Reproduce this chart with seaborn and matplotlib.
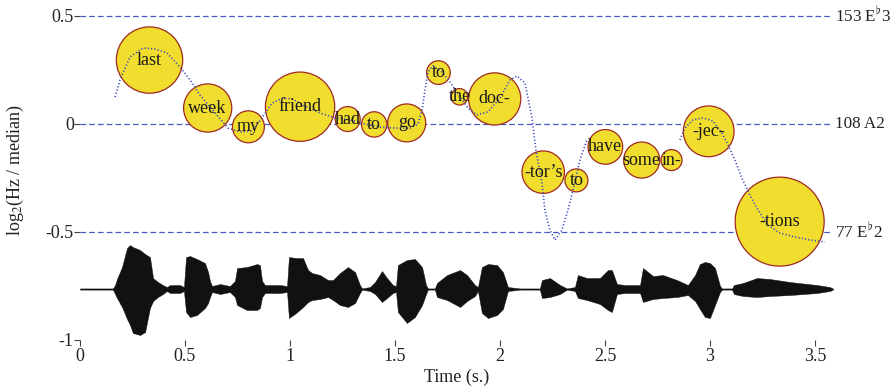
import numpy as np
import pandas as pd
import matplotlib
matplotlib.use("Agg")
import matplotlib.pyplot as plt
import seaborn as sns

# ---------------- data ----------------
# syllables: label, time (s), pitch (log2 Hz/median), relative weight (circle area)
syllables = ["last", "week", "my", "friend", "had", "to", "go", "to", "the", "doc-",
             "-tor\u2019s", "to", "have", "some", "in-", "-jec-", "-tions"]
syl_time = [0.331, 0.608, 0.802, 1.048, 1.275, 1.401, 1.556, 1.707, 1.807, 1.975,
            2.206, 2.364, 2.502, 2.675, 2.817, 2.994, 3.332]
syl_pitch = [0.296, 0.074, -0.013, 0.080, 0.023, -0.002, 0.005, 0.238, 0.126, 0.116,
             -0.223, -0.261, -0.106, -0.167, -0.167, -0.034, -0.452]
syl_weight = [1100, 580, 255, 1200, 155, 160, 360, 140, 68, 680,
              450, 132, 300, 325, 110, 645, 1980]

# pitch contour (two voiced stretches)
contour_seg = [0] * 51 + [1] * 16
contour_time = [0.167, 0.190, 0.238, 0.300, 0.357, 0.414, 0.476, 0.524, 0.571, 0.643,
                0.705, 0.762, 0.819, 0.867, 0.914, 0.967, 1.010, 1.071, 1.143, 1.214,
                1.286, 1.357, 1.429, 1.500, 1.571, 1.610, 1.629, 1.643, 1.657, 1.681,
                1.724, 1.762, 1.810, 1.848, 1.890, 1.943, 2.000, 2.048, 2.081, 2.119,
                2.152, 2.171, 2.200, 2.214, 2.238, 2.262, 2.295, 2.324, 2.348, 2.381,
                2.414,
                2.857, 2.881, 2.919, 2.967, 3.014, 3.057, 3.086, 3.119, 3.152, 3.190,
                3.229, 3.276, 3.333, 3.405, 3.476, 3.548]
contour_pitch = [0.125, 0.204, 0.310, 0.352, 0.347, 0.329, 0.264, 0.204, 0.134, 0.051,
                 -0.019, -0.037, -0.032, 0.028, 0.097, 0.120, 0.116, 0.083, 0.051, 0.028,
                 0.019, 0.000, -0.014, -0.019, -0.019, 0.000, 0.065, 0.157, 0.241, 0.269,
                 0.241, 0.194, 0.125, 0.074, 0.042, 0.056, 0.120, 0.204, 0.222, 0.190,
                 0.032, -0.120, -0.273, -0.398, -0.491, -0.537, -0.491, -0.398, -0.306, -0.167,
                 -0.074,
                 -0.074, -0.019, 0.019, 0.028, 0.014, -0.042, -0.097, -0.167, -0.250, -0.329,
                 -0.398, -0.468, -0.505, -0.523, -0.537, -0.546]

# waveform envelope (arbitrary amplitude units)
wave_time = [0.000, 0.157, 0.167, 0.176, 0.200, 0.224, 0.238, 0.252, 0.286, 0.310,
             0.333, 0.348, 0.371, 0.395, 0.414, 0.429, 0.476, 0.495, 0.505, 0.524,
             0.557, 0.595, 0.610, 0.619, 0.629, 0.667, 0.714, 0.738, 0.748, 0.795,
             0.843, 0.857, 0.867, 0.881, 0.952, 0.986, 0.995, 1.029, 1.062, 1.086,
             1.105, 1.143, 1.181, 1.205, 1.238, 1.276, 1.310, 1.333, 1.343, 1.381,
             1.405, 1.438, 1.462, 1.490, 1.505, 1.514, 1.557, 1.595, 1.629, 1.648,
             1.657, 1.690, 1.700, 1.748, 1.810, 1.843, 1.881, 1.895, 1.914, 1.943,
             1.986, 2.014, 2.038, 2.095, 2.190, 2.200, 2.238, 2.286, 2.319, 2.357,
             2.371, 2.414, 2.476, 2.514, 2.533, 2.557, 2.595, 2.667, 2.681, 2.729,
             2.776, 2.843, 2.895, 2.929, 2.952, 2.976, 3.000, 3.024, 3.048, 3.057,
             3.105, 3.114, 3.157, 3.224, 3.286, 3.381, 3.510, 3.571, 3.586]
wave_hi = [0.6, 0.6, 4, 10, 22, 41, 44, 42, 39, 35,
           32, 11, 7, 4, 2, 4, 4, 2, 32, 33,
           30, 26, 17, 8, 3, 5, 3, 8, 21, 22,
           25, 24, 8, 4, 4, 3, 32, 31, 31, 19,
           16, 14, 9, 9, 16, 22, 17, 4, 0.6, 2,
           7, 18, 11, 4, 3, 24, 29, 30, 22, 4,
           0.6, 0.6, 6, 14, 19, 14, 4, 2, 22, 25,
           24, 17, 2, 0.6, 0.6, 9, 11, 4, 0.6, 2,
           14, 11, 11, 19, 19, 5, 4, 4, 21, 13,
           14, 9, 4, 14, 25, 27, 26, 21, 3, 0.6,
           0.6, 4, 6, 11, 10, 7, 4, 2, 0.5]
wave_lo = [-0.6, -0.6, -5, -9, -18, -30, -36, -44, -46, -43,
           -19, -12, -8, -5, -2, -4, -4, -2, -23, -28,
           -26, -19, -14, -8, -3, -5, -3, -8, -16, -21,
           -21, -19, -8, -4, -4, -3, -29, -24, -18, -13,
           -11, -10, -8, -11, -16, -18, -14, -4, -0.6, -2,
           -5, -13, -9, -4, -3, -23, -34, -28, -16, -5,
           -0.6, -0.6, -8, -11, -18, -12, -7, -2, -24, -29,
           -26, -20, -2, -0.6, -0.6, -9, -8, -5, -0.6, -2,
           -9, -11, -15, -21, -23, -5, -4, -4, -13, -10,
           -9, -8, -6, -12, -20, -28, -29, -16, -3, -0.6,
           -0.6, -5, -7, -8, -7, -6, -4, -2, -0.5]

ref_levels = [0.5, 0.0, -0.5]
ref_labels = ["153 E$^{\\flat}$3", "108 A2", "77 E$^{\\flat}$2"]
x_ticks = [0, 0.5, 1, 1.5, 2, 2.5, 3, 3.5]
x_ticklabels = ["0", "0.5", "1", "1.5", "2", "2.5", "3", "3.5"]
y_ticks = [-1, -0.5, 0, 0.5]
y_ticklabels = ["-1", "-0.5", "0", "0.5"]

# ---------------- style ----------------
sns.set_theme(style="white")
plt.rcParams["font.family"] = ["Liberation Serif", "DejaVu Serif"]
plt.rcParams["mathtext.fontset"] = "stix"
plt.rcParams["axes.unicode_minus"] = False

FS = 13
WAVE_BASE = -0.764
WAVE_SCALE = 1 / 216.0
DASH_COL = "#4a58c8"
DOT_COL = "#3a48c0"
FILL_COL = "#f0dd2e"
EDGE_COL = "#9e2a22"

fig = plt.figure(figsize=(8.91, 3.86), dpi=100)
ax = fig.add_axes([80 / 891, 46 / 386, 753 / 891, 340 / 386])

# reference pitch lines
for lv, lab in zip(ref_levels, ref_labels):
    ax.axhline(lv, color=DASH_COL, lw=0.9, dashes=(4.5, 2.5), zorder=1)
    ax.text(1.002, lv, lab, transform=ax.get_yaxis_transform(), ha="left",
            va="center", fontsize=12.3, color="#222222")

# waveform
wt = np.array(wave_time)
ax.fill_between(wt, WAVE_BASE + np.array(wave_hi) * WAVE_SCALE,
                WAVE_BASE + np.array(wave_lo) * WAVE_SCALE,
                color="#111111", lw=0.3, edgecolor="#111111", zorder=1)

# syllable circles
syl_df = pd.DataFrame({"time": syl_time, "pitch": syl_pitch, "weight": syl_weight})
max_w = 1980
sns.scatterplot(data=syl_df, x="time", y="pitch", size="weight",
                sizes=(0, 2.0736 * 44.5 ** 2), size_norm=(0, max_w),
                color=FILL_COL, edgecolor=EDGE_COL, linewidth=0.9,
                legend=False, ax=ax, zorder=2)

# pitch contour
cdf = pd.DataFrame({"time": contour_time, "pitch": contour_pitch, "seg": contour_seg})
n_before = len(ax.get_lines())
sns.lineplot(data=cdf, x="time", y="pitch", units="seg", estimator=None,
             color=DOT_COL, lw=1.2, ax=ax, zorder=3, sort=False)
for ln in ax.get_lines()[n_before:]:
    ln.set_linestyle((0, (0.7, 1.3)))

# syllable labels
for lab, t, p in zip(syllables, syl_time, syl_pitch):
    ax.text(t, p, lab, ha="center", va="center", fontsize=FS, color="#1a1a1a", zorder=4)

# axes
ax.set_xlim(0, 3.586)
ax.set_ylim(-1, 0.574)
for sp in ax.spines.values():
    sp.set_visible(False)
ax.set_xticks(x_ticks)
ax.set_xticklabels(x_ticklabels, fontsize=FS)
ax.set_yticks(y_ticks)
ax.set_yticklabels(y_ticklabels, fontsize=FS)
ax.tick_params(axis="both", direction="out", length=4, width=0.8, color="#444444",
               labelcolor="#222222", bottom=True, left=True)
ax.tick_params(axis="x", pad=1.5)
ax.tick_params(axis="y", pad=0.5)
ax.grid(False)
ax.set_facecolor("white")

ax.set_xlabel("Time (s.)", fontsize=FS, color="#222222")
ax.xaxis.set_label_coords(0.5, -37 / 340)
ax.xaxis.label.set_va("center")
ax.set_ylabel("log$_2$(Hz / median)", fontsize=FS, color="#222222")
ax.yaxis.set_label_coords(-65 / 753, 0.5)
ax.yaxis.label.set_va("center")

fig.savefig("out.png", dpi=100, facecolor="white")
